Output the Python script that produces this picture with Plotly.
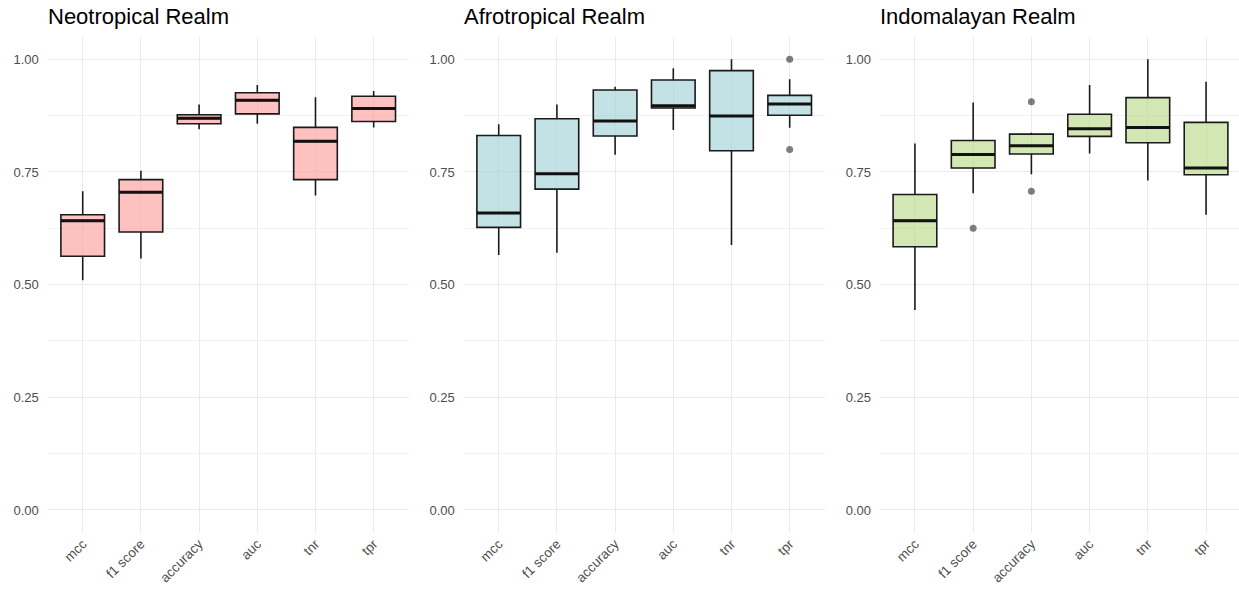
import plotly.graph_objects as go

metrics = ["mcc", "f1 score", "accuracy", "auc", "tnr", "tpr"]
realms = ["Neotropical Realm", "Afrotropical Realm", "Indomalayan Realm"]

# per-realm box statistics, in metric order
neo_lower = [0.510, 0.558, 0.845, 0.857, 0.698, 0.849]
neo_q1 = [0.563, 0.617, 0.857, 0.879, 0.733, 0.862]
neo_median = [0.642, 0.705, 0.869, 0.909, 0.818, 0.891]
neo_q3 = [0.655, 0.733, 0.877, 0.926, 0.849, 0.918]
neo_upper = [0.707, 0.753, 0.900, 0.943, 0.916, 0.930]

afro_lower = [0.566, 0.571, 0.788, 0.843, 0.588, 0.848]
afro_q1 = [0.627, 0.712, 0.830, 0.892, 0.797, 0.876]
afro_median = [0.659, 0.746, 0.863, 0.897, 0.874, 0.901]
afro_q3 = [0.831, 0.868, 0.932, 0.954, 0.975, 0.920]
afro_upper = [0.856, 0.900, 0.939, 0.980, 1.000, 0.956]

indo_lower = [0.444, 0.703, 0.745, 0.791, 0.731, 0.655]
indo_q1 = [0.584, 0.759, 0.790, 0.829, 0.815, 0.744]
indo_median = [0.642, 0.789, 0.808, 0.846, 0.849, 0.759]
indo_q3 = [0.700, 0.820, 0.834, 0.878, 0.915, 0.860]
indo_upper = [0.813, 0.904, 0.837, 0.943, 1.000, 0.950]

# outliers: (metric, value)
afro_out_metric = ["tpr", "tpr"]
afro_out_value = [1.000, 0.800]
indo_out_metric = ["f1 score", "accuracy", "accuracy"]
indo_out_value = [0.625, 0.906, 0.707]
neo_out_metric = []
neo_out_value = []

fills = ["rgba(252,152,148,0.6)", "rgba(153,207,213,0.6)", "rgba(182,215,132,0.6)"]

stats = [
    (neo_lower, neo_q1, neo_median, neo_q3, neo_upper, neo_out_metric, neo_out_value),
    (afro_lower, afro_q1, afro_median, afro_q3, afro_upper, afro_out_metric, afro_out_value),
    (indo_lower, indo_q1, indo_median, indo_q3, indo_upper, indo_out_metric, indo_out_value),
]

W, H = 1239, 598
x_domains = [[47.8 / W, 408.6 / W], [463.8 / W, 824.6 / W], [880.0 / W, 1.0]]
x_ranges = [[-0.6, 5.6], [-0.6, 5.6], [-0.6, 5.6 - 2 / 58.2]]
y_domain = [(H - 532.5) / H, (H - 36.8) / H]

FONT = "Liberation Sans, Arial, sans-serif"
BOXW = 0.75

fig = go.Figure()
layout = dict(
    width=W, height=H,
    margin=dict(l=0, r=0, t=0, b=0),
    paper_bgcolor="white", plot_bgcolor="white",
    showlegend=False,
    font=dict(family=FONT, color="#4d4d4d", size=13),
)
annotations = []
idx = list(range(len(metrics)))

for k, (lo, q1, med, q3, up, om, ov) in enumerate(stats):
    xa = "x" if k == 0 else f"x{k+1}"
    ya = "y" if k == 0 else f"y{k+1}"
    fig.add_trace(go.Box(
        x=idx, q1=q1, median=med, q3=q3, lowerfence=lo, upperfence=up,
        width=BOXW, fillcolor=fills[k], boxpoints=False, whiskerwidth=0,
        line=dict(color="#1a1a1a", width=1.6),
        xaxis=xa, yaxis=ya, hoverinfo="skip",
    ))
    mx, my = [], []
    for i in idx:
        mx += [i - BOXW / 2, i + BOXW / 2, None]
        my += [med[i], med[i], None]
    fig.add_trace(go.Scatter(
        x=mx, y=my, mode="lines", line=dict(color="#111111", width=3),
        xaxis=xa, yaxis=ya, hoverinfo="skip",
    ))
    if om:
        fig.add_trace(go.Scatter(
            x=[metrics.index(m) for m in om], y=ov, mode="markers",
            marker=dict(color="rgba(0,0,0,0.5)", size=7),
            xaxis=xa, yaxis=ya, hoverinfo="skip",
        ))
    xkey = "xaxis" if k == 0 else f"xaxis{k+1}"
    ykey = "yaxis" if k == 0 else f"yaxis{k+1}"
    layout[xkey] = dict(
        domain=x_domains[k], range=x_ranges[k], anchor=ya,
        tickmode="array", tickvals=idx, ticktext=metrics, tickangle=-45,
        showgrid=True, gridcolor="#ebebeb", gridwidth=1.3,
        zeroline=False, showline=False, ticks="",
        tickfont=dict(family=FONT, color="#4d4d4d", size=13.5),
    )
    layout[ykey] = dict(
        domain=y_domain, range=[-0.05, 1.05], anchor=xa,
        tickmode="array", tickvals=[0, 0.25, 0.5, 0.75, 1.0],
        ticktext=["0.00", "0.25", "0.50", "0.75", "1.00"],
        showgrid=True, gridcolor="#ebebeb", gridwidth=1.3,
        minor=dict(showgrid=True, gridcolor="#f2f2f2", gridwidth=0.8,
                   tickvals=[0.125, 0.375, 0.625, 0.875]),
        zeroline=False, showline=False, ticks="", ticklabelstandoff=8,
        tickfont=dict(family=FONT, color="#4d4d4d", size=13),
    )
    annotations.append(dict(
        text=realms[k], xref="paper", yref="paper",
        x=x_domains[k][0] - 2 / W, y=1 - 17 / H, xanchor="left", yanchor="middle",
        showarrow=False, font=dict(family=FONT, color="black", size=22),
    ))

layout["annotations"] = annotations
fig.update_layout(**layout)
fig.write_html("out.html")
